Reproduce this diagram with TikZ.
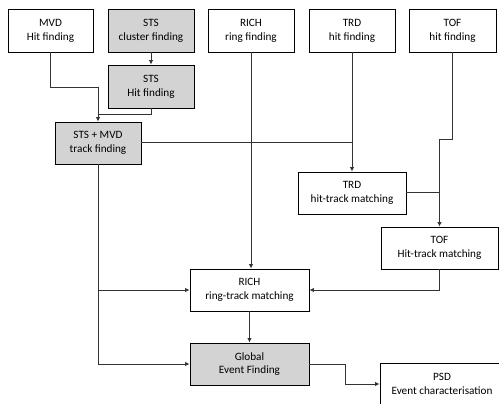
\documentclass[tikz,border=0pt]{standalone}
\usepackage{fontspec}
\setmainfont{Carlito}
\usetikzlibrary{arrows.meta}
\definecolor{boxgray}{HTML}{D3D3D3}
\definecolor{linegray}{HTML}{333333}
\begin{document}
\begin{tikzpicture}[x=1pt,y=-1pt,
  box/.style={draw=black,line width=0.85pt,fill=white,align=center,inner sep=0pt,
    minimum height=43pt,font=\fontsize{11.2}{13.8}\selectfont},
  gbox/.style={box,fill=boxgray},
  conn/.style={draw=linegray,line width=1pt},
  arr/.style={conn,-{Latex[length=4.5pt,width=4.5pt]}}]
\useasboundingbox (0,0) rectangle (499,404);
\clip (0,0) rectangle (499,404);
% nodes
\node[box,minimum width=85pt] (MVD) at (50.5,30.5) {MVD\\Hit finding};
\node[gbox,minimum width=86pt] (STScl) at (151,30.5) {STS\\cluster finding};
\node[gbox,minimum width=86pt] (STShit) at (151,86.5) {STS\\Hit finding};
\node[gbox,minimum width=86pt,minimum height=42pt] (STSMVD) at (98,143) {STS + MVD\\track finding};
\node[box,minimum width=86pt] (RICHr) at (251,30.5) {RICH\\ring finding};
\node[box,minimum width=86pt] (TRDh) at (352,30.5) {TRD\\hit finding};
\node[box,minimum width=87pt] (TOFh) at (452.5,30.5) {TOF\\hit finding};
\node[box,minimum width=108pt,minimum height=42pt] (TRDm) at (352,193) {TRD\\hit-track matching};
\node[box,minimum width=117pt,minimum height=42pt] (TOFm) at (439.5,248) {TOF\\Hit-track matching};
\node[box,minimum width=119pt,minimum height=42pt] (RICHm) at (249.5,290) {RICH\\ring-track matching};
\node[gbox,minimum width=119pt,minimum height=42pt] (Glob) at (249.5,364) {Global\\Event Finding};
\node[box,minimum width=124pt,minimum height=42pt] (PSD) at (442,384) {PSD\\Event characterisation};
% connectors
\coordinate (j1) at (98,115);
\draw[arr] (STScl.south) -- (STShit.north);
\draw[arr] (MVD.south) -- ++(0,35) -| (STSMVD.north);
\draw[conn] (STShit.south) |- (j1);
\draw[conn] (STSMVD.east) -- (TRDh.south |- STSMVD.east);
\draw[arr] (TRDh.south) -- (TRDm.north);
\draw[arr] (RICHr.south) -- (RICHr.south |- RICHm.north);
\draw[arr] (TOFh.south) -- ++(0,87) -| (TOFm.north);
\draw[conn] (TRDm.east) -- (TOFm.north |- TRDm.east);
\draw[arr] (TOFm.south) |- (RICHm.east);
\draw[arr] (STSMVD.south) |- (Glob.west);
\draw[arr] (STSMVD.south |- RICHm.west) -- (RICHm.west);
\draw[arr] (RICHm.south) -- (Glob.north);
\draw[arr] (Glob.east) -- ++(36,0) |- (PSD.west);
\end{tikzpicture}
\end{document}
